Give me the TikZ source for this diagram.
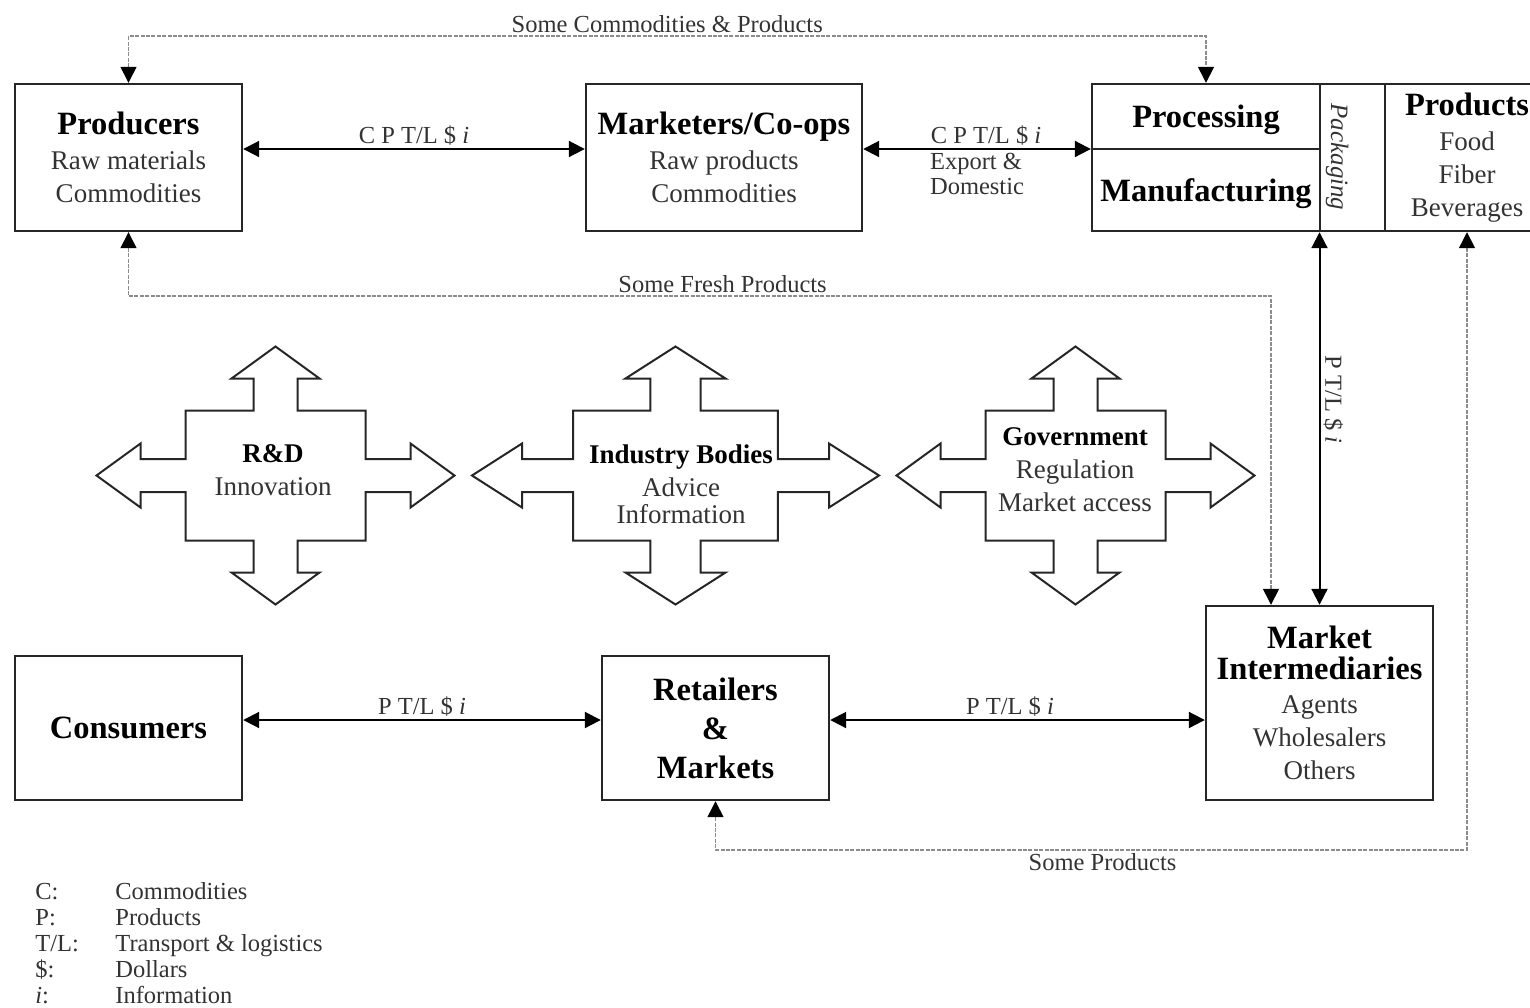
\documentclass[tikz,border=0pt]{standalone}
\usepackage{fontspec}
\setmainfont{Liberation Serif}
\usetikzlibrary{arrows.meta,calc}

\newcommand{\boxhead}[1]{{\fontsize{16.25}{16.5}\selectfont\bfseries\color{black}#1}}
\newcommand{\crosshead}[1]{{\bfseries\color{black}#1}}
\def\crosspath{(0,-129) -- (44,-97) -- (22,-97) -- (22,-65) -- (90,-65) -- (90,-16.5) -- (135,-16.5) -- (135,-32) -- (179,0) -- (135,32) -- (135,16.5) -- (90,16.5) -- (90,65) -- (22,65) -- (22,97) -- (44,97) -- (0,129) -- (-44,97) -- (-22,97) -- (-22,65) -- (-90,65) -- (-90,16.5) -- (-135,16.5) -- (-135,32) -- (-179,0) -- (-135,-32) -- (-135,-16.5) -- (-90,-16.5) -- (-90,-65) -- (-22,-65) -- (-22,-97) -- (-44,-97) -- cycle}

\begin{document}
\begin{tikzpicture}[x=0.5pt,y=-0.5pt,>={Triangle[length=8pt,width=8pt,color=black]}]
		\tikzstyle{unit}=[rectangle,draw=black!85,line width=1.2pt,inner sep=0pt,align=center,text=black!80,font=\fontsize{13.5}{16.5}\selectfont]
		\tikzstyle{flow}=[line width=1pt,black]
		\tikzstyle{trade}=[line width=0.7pt,draw=black!45,dash pattern=on 2pt off 0.7pt]
		\tikzstyle{lbl}=[font=\fontsize{12.25}{12.5}\selectfont,text=black!80,inner sep=1.5pt]
		\tikzstyle{cross}=[draw=black!85,line width=1pt,fill=white,line join=miter]
		\tikzstyle{crosstext}=[align=center,inner sep=0pt,text=black!80,font=\fontsize{13.5}{16.5}\selectfont]
		\useasboundingbox (0,0) rectangle (1530,1007);
		
		\node[unit,minimum width=113.5pt,minimum height=73.5pt](prod) at (128.5,157.5){\boxhead{Producers}\\[1pt]Raw materials\\Commodities};
		
		\node[unit,minimum width=138pt,minimum height=73.5pt](mkt) at (724,157.5){\boxhead{Marketers/Co-ops}\\[1pt]Raw products\\Commodities};
		
		\node[unit,minimum width=114pt,minimum height=32.5pt,text depth=0pt](proc) at (1206,116.5){\boxhead{Processing}};
		
		\node[unit,minimum width=114pt,minimum height=41pt,text depth=0pt](manu) at (1206,190){\boxhead{Manufacturing}};
		
		\node[unit,minimum width=32.5pt,minimum height=73.5pt](pack) at (1352.5,157.5){};
		\node[lbl,rotate=-90,font=\fontsize{12.5}{12.5}\selectfont\itshape](pack-txt) at (1337,157){Packaging};
		
		\node[unit,minimum width=82pt,minimum height=73.5pt](goods) at (1467,157.5){\boxhead{Products}\\[1pt]Food\\Fiber\\Beverages};
		
		\node[unit,minimum width=113.5pt,minimum height=97pt](mi) at (1319.5,703){\boxhead{Market}\\[-1pt]\boxhead{Intermediaries}\\[0.5pt]Agents\\Wholesalers\\Others};
		
		\node[unit,minimum width=113.5pt,minimum height=72pt](cons) at (128.5,728){\boxhead{Consumers}};
		
		\node[unit,minimum width=113.5pt,minimum height=72pt](ret) at (715.5,728){\boxhead{Retailers}\\[3pt]\boxhead{\&}\\[3pt]\boxhead{Markets}};
		
		\foreach \cx/\sc in {275.5/1,675.5/1.137,1075.5/1}
		\draw[cross,shift={(\cx,475.5)},xscale=\sc] \crosspath;
		
		\node[crosstext](rd) at (273,470){\crosshead{R\&D}\\Innovation};
		\node[crosstext](ib) at (681,484){\crosshead{Industry Bodies}\\Advice\\[-3pt]Information};
		\node[crosstext](gov) at (1075,470){\crosshead{Government}\\Regulation\\Market access};
		
		\coordinate (uprow) at (0,149);
		\coordinate (lowrow) at (0,720);
		\coordinate (topline) at (0,36);
		\coordinate (freshline) at (0,296);
		\coordinate (botline) at (0,850);
		\coordinate (mi-in) at ($(mi.north)+(-48.5,0)$);
		
		\path[flow,<->] (prod.east |- uprow) edge node[lbl,above]{C P T/L \$ \textit{i}} (mkt.west |- uprow)
		(mkt.east |- uprow) edge node[lbl,above,pos=0.54]{C P T/L \$ \textit{i}} node[lbl,below,align=left,pos=0.5]{Export \&\\Domestic} (manu.west |- uprow)
		(mi.north |- manu.south) edge node[lbl,rotate=-90,anchor=south,pos=0.45]{P T/L \$ \textit{i}} (mi.north)
		(cons.east |- lowrow) edge node[lbl,above]{P T/L \$ \textit{i}} (ret.west |- lowrow)
		(ret.east |- lowrow) edge node[lbl,above,pos=0.48]{P T/L \$ \textit{i}} (mi.west |- lowrow);
		
		\draw[trade,<->] (prod.north) -- (prod.north |- topline) -- node[lbl,above]{Some Commodities \& Products} (proc.north |- topline) -- (proc.north);
		\draw[trade,<->] (prod.south) -- (prod.south |- freshline) -- node[lbl,above,pos=0.52]{Some Fresh Products} (mi-in |- freshline) -- (mi-in);
		\draw[trade,<->] (goods.south) -- (goods.south |- botline) -- node[lbl,below,pos=0.485]{Some Products} (ret.south |- botline) -- (ret.south);
		
		\foreach \k/\v [count=\n from 0] in {C:/Commodities,P:/Products,{T/L:}/{Transport \& logistics},\$:/Dollars,{\textit{i}:}/Information}
		{
		\node[lbl,inner sep=0pt,anchor=base west](key-\n) at (35,899+26.1*\n){\k};
		\node[lbl,inner sep=0pt,anchor=base west](val-\n) at (115,899+26.1*\n){\v};
		}
\end{tikzpicture}
\end{document}
